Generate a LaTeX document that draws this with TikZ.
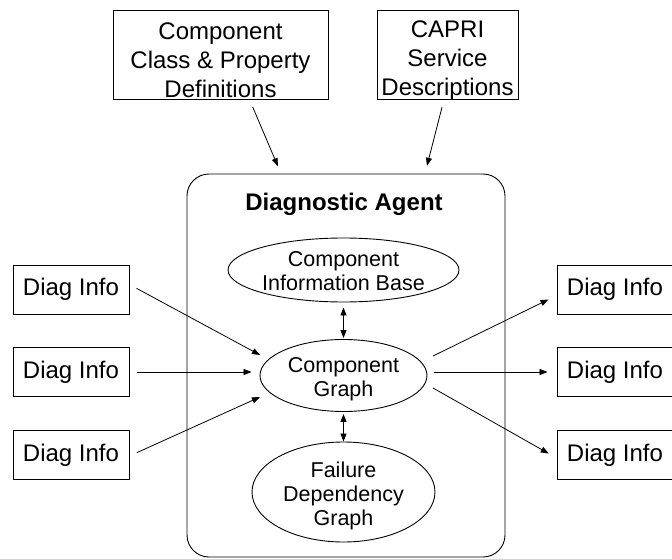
\documentclass[tikz,border=0pt]{standalone}
\usepackage{fontspec}
\setmainfont{Liberation Sans}
\usetikzlibrary{arrows.meta,shapes.geometric,calc}
\begin{document}
\begin{tikzpicture}[x=1pt,y=-1pt,
  box/.style={draw, line width=0.9pt, inner sep=0pt, align=center,
    font=\fontsize{24}{29}\selectfont},
  boxtext/.style={inner sep=0pt, align=center, font=\fontsize{24}{29}\selectfont},
  infobox/.style={box, minimum width=116pt, minimum height=49pt},
  oval/.style={draw, ellipse, line width=0.9pt, inner sep=0pt},
  ovaltext/.style={inner sep=0pt, align=center, font=\fontsize{21.5}{24}\selectfont},
  arr/.style={-{Triangle[length=8pt,width=6pt]}, line width=0.8pt},
  darr/.style={{Triangle[length=8pt,width=6pt]}-{Triangle[length=8pt,width=6pt]}, line width=0.8pt}]
\clip (0,0) rectangle (672,559);

% input specifications
\node[box, minimum width=215pt, minimum height=89pt] (defs) at (220.5,54.5) {};
\node[boxtext] (defstext) at ($(defs)+(0,6)$) {Component\\Class \& Property\\Definitions};
\node[box, minimum width=141pt, minimum height=89pt] (capri) at (447.5,54.5) {};
\node[boxtext] (capritext) at ($(capri)+(0,6)$) {CAPRI\\Service\\Descriptions};

% the agent and its internal structures
\node[draw, line width=0.9pt, rounded corners=22pt, minimum width=318pt,
  minimum height=383pt] (agent) at (346,365.5) {};
\node[font=\bfseries\fontsize{24}{29}\selectfont] (title) at (344,204) {Diagnostic Agent};
\node[oval, minimum width=231pt, minimum height=64pt] (cib) at (343.5,270) {};
\node[ovaltext] (cibtext) at ($(cib)+(0,1)$) {Component\\Information Base};
\node[oval, minimum width=167pt, minimum height=72pt] (cg) at (343.5,375.5) {};
\node[ovaltext] (cgtext) at ($(cg)+(0,4)$) {Component\\Graph};
\node[oval, minimum width=183pt, minimum height=100pt] (fdg) at (343.5,492) {};
\node[ovaltext] (fdgtext) at ($(fdg)+(0,4)$) {Failure\\Dependency\\Graph};

% diagnostic information sources and sinks
\node[infobox] (l1) at (71,289.5) {Diag Info};
\node[infobox] (l2) at (71,372) {Diag Info};
\node[infobox] (l3) at (71,455) {Diag Info};
\node[infobox] (r1) at (615,289.5) {Diag Info};
\node[infobox] (r2) at (615,372) {Diag Info};
\node[infobox] (r3) at (615,455) {Diag Info};

% connectors
\draw[arr, shorten <=8pt, shorten >=8pt] ($(defs.south)+(29,0)$) -- ($(agent.north)+(-65,0)$);
\draw[arr, shorten <=8pt, shorten >=8pt] ($(capri.south)+(-3.5,0)$) -- ($(agent.north)+(79,0)$);

\draw[darr, shorten <=5pt, shorten >=1pt] (cib.south) -- (cg.north);
\draw[darr, shorten <=2pt, shorten >=0pt] (cg.south) -- (fdg.north);

\coordinate (in1) at (260,355);
\coordinate (in3) at (260,397);
\draw[arr, shorten <=8pt] ($(l1.east)+(0,-5)$) -- (in1);
\draw[arr, shorten <=8pt, shorten >=8pt] (l2.east) -- (l2.east -| cg.west);
\draw[arr, shorten <=8pt] ($(l3.east)+(0,1)$) -- (in3);

\coordinate (out1) at (433,356);
\coordinate (out3) at (433,388);
\draw[arr, shorten >=9pt] (out1) -- ($(r1.west)+(0,6)$);
\draw[arr, shorten <=7pt, shorten >=9pt] (r2.west -| cg.east) -- (r2.west);
\draw[arr, shorten >=9pt] (out3) -- ($(r3.west)+(0,3)$);
\end{tikzpicture}
\end{document}
